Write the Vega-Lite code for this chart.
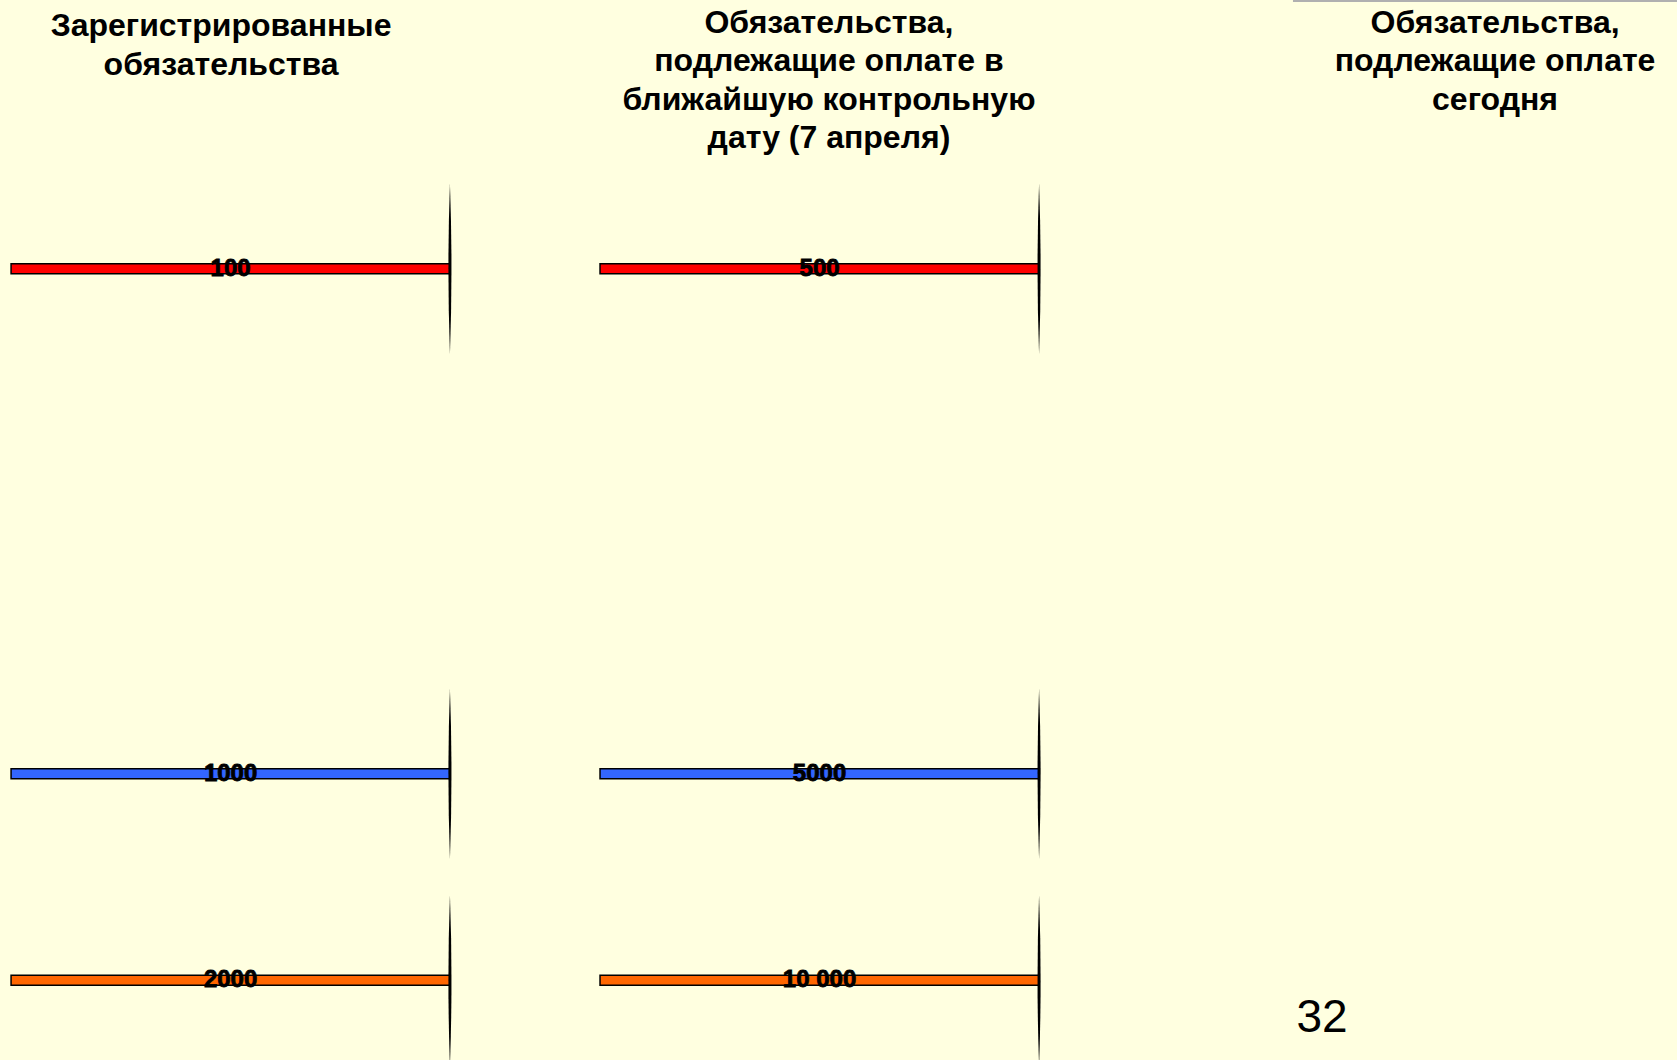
{
  "$schema": "https://vega.github.io/schema/vega-lite/v6.json",
  "width": 1677,
  "height": 1060,
  "padding": 0,
  "autosize": {"type": "none"},
  "background": "#FFFFE0",
  "config": {"view": {"stroke": null}, "font": "Liberation Sans"},
  "datasets": {
    "bars": [
      {"column": "Зарегистрированные обязательства", "tier": "A", "label": "100", "start": 0.66, "end": 26.83, "mid": 13.75, "level": 25.36},
      {"column": "Зарегистрированные обязательства", "tier": "B", "label": "1000", "start": 0.66, "end": 26.83, "mid": 13.75, "level": 73.0},
      {"column": "Зарегистрированные обязательства", "tier": "C", "label": "2000", "start": 0.66, "end": 26.83, "mid": 13.75, "level": 92.47},
      {"column": "Подлежащие оплате 7 апреля", "tier": "A", "label": "500", "start": 35.78, "end": 61.96, "mid": 48.87, "level": 25.36},
      {"column": "Подлежащие оплате 7 апреля", "tier": "B", "label": "5000", "start": 35.78, "end": 61.96, "mid": 48.87, "level": 73.0},
      {"column": "Подлежащие оплате 7 апреля", "tier": "C", "label": "10 000", "start": 35.78, "end": 61.96, "mid": 48.87, "level": 92.47}
    ],
    "titles": [
      {"text": "Зарегистрированные\nобязательства", "cx": 13.18, "ty": 3.40},
      {"text": "Обязательства,\nподлежащие оплате в\nближайшую контрольную\nдату (7 апреля)", "cx": 49.43, "ty": 3.07},
      {"text": "Обязательства,\nподлежащие оплате\nсегодня", "cx": 89.15, "ty": 3.07}
    ],
    "page": [{"num": "32", "cx": 78.83, "ty": 97.33}],
    "topline": [{"a": 77.1, "b": 100, "ty": 0.09}]
  },
  "layer": [
    {
      "data": {"name": "bars"},
      "mark": {"type": "bar", "height": 10, "stroke": "#000000", "strokeWidth": 1.5},
      "encoding": {
        "x": {"field": "start", "type": "quantitative", "axis": null, "scale": {"domain": [0, 100], "nice": false, "zero": false, "padding": 0}},
        "x2": {"field": "end"},
        "y": {"field": "level", "type": "quantitative", "axis": null, "scale": {"domain": [0, 100], "nice": false, "zero": false, "reverse": true, "padding": 0}},
        "color": {"field": "tier", "type": "nominal", "legend": null, "scale": {"domain": ["A", "B", "C"], "range": ["#FF0000", "#3366FF", "#FF6600"]}}
      }
    },
    {
      "data": {"name": "bars"},
      "mark": {"type": "point", "shape": "M0,-1 Q0.036,0 0,1 Q-0.036,0 0,-1 Z", "filled": true, "color": "#000000", "opacity": 1, "size": 29000, "strokeWidth": 0},
      "encoding": {
        "x": {"field": "end", "type": "quantitative"},
        "y": {"field": "level", "type": "quantitative"}
      }
    },
    {
      "data": {"name": "bars"},
      "mark": {"type": "text", "fontSize": 24, "fontWeight": "bold", "color": "#000000", "align": "center", "baseline": "middle", "stroke": "#000000", "strokeWidth": 0.8},
      "encoding": {
        "x": {"field": "mid", "type": "quantitative"},
        "y": {"field": "level", "type": "quantitative"},
        "text": {"field": "label"}
      }
    },
    {
      "data": {"name": "titles"},
      "mark": {"type": "text", "fontSize": 32, "fontWeight": "bold", "color": "#000000", "align": "center", "baseline": "alphabetic", "lineBreak": "\n", "lineHeight": 38.5},
      "encoding": {
        "x": {"field": "cx", "type": "quantitative"},
        "y": {"field": "ty", "type": "quantitative"},
        "text": {"field": "text"}
      }
    },
    {
      "data": {"name": "page"},
      "mark": {"type": "text", "fontSize": 46, "color": "#000000", "align": "center", "baseline": "alphabetic"},
      "encoding": {
        "x": {"field": "cx", "type": "quantitative"},
        "y": {"field": "ty", "type": "quantitative"},
        "text": {"field": "num"}
      }
    },
    {
      "data": {"name": "topline"},
      "mark": {"type": "rule", "color": "#B0B0B0", "strokeWidth": 2},
      "encoding": {
        "x": {"field": "a", "type": "quantitative"},
        "x2": {"field": "b"},
        "y": {"field": "ty", "type": "quantitative"}
      }
    }
  ]
}
